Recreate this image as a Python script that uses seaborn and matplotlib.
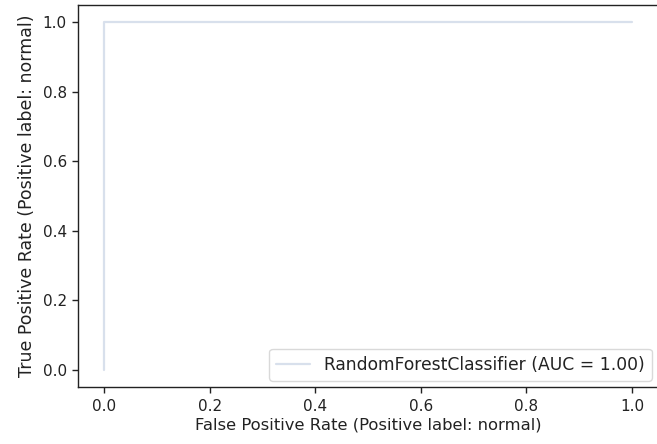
import matplotlib
matplotlib.use('Agg')
import matplotlib.pyplot as plt
import seaborn as sns
import pandas as pd

# ROC curve points (perfect classifier)
fpr = [0.0, 0.0, 1.0]
tpr = [0.0, 1.0, 1.0]
model_name = 'RandomForestClassifier'
auc = 1.00

sns.set_style('ticks')
plt.rcParams['font.family'] = ['DejaVu Sans']
plt.rcParams['text.color'] = '#222222'
plt.rcParams['axes.labelcolor'] = '#222222'
plt.rcParams['xtick.color'] = '#222222'
plt.rcParams['ytick.color'] = '#222222'

df = pd.DataFrame({'fpr': fpr, 'tpr': tpr})

fig = plt.figure(figsize=(6.57, 4.44), dpi=100)
ax = fig.add_axes([78 / 657, (444 - 387.4) / 444, (658.4 - 78) / 657, (387.4 - 4.6) / 444])
sns.lineplot(data=df, x='fpr', y='tpr', estimator=None, sort=False, ax=ax,
             color='#d8e0ec', linewidth=1.6,
             label=model_name + ' (AUC = %.2f)' % auc)
ax.set_xlim(-0.05, 1.05)
ax.set_ylim(-0.05, 1.05)
ax.set_xticks([0, 0.2, 0.4, 0.6, 0.8, 1.0])
ax.set_yticks([0, 0.2, 0.4, 0.6, 0.8, 1.0])
ax.tick_params(labelsize=11, length=4.5, width=1, color='#222222')
for s in ax.spines.values():
    s.set_color('#222222')
    s.set_linewidth(1.0)
ax.set_xlabel('False Positive Rate (Positive label: normal)', fontsize=11.8, labelpad=3)
ax.set_ylabel('True Positive Rate (Positive label: normal)', fontsize=12.5, labelpad=5)
ax.legend(loc='lower right', fontsize=12.3, frameon=True, fancybox=True,
          edgecolor='#d0d0d0', framealpha=0.8, borderaxespad=0.4)
plt.savefig('out.png', dpi=100)
